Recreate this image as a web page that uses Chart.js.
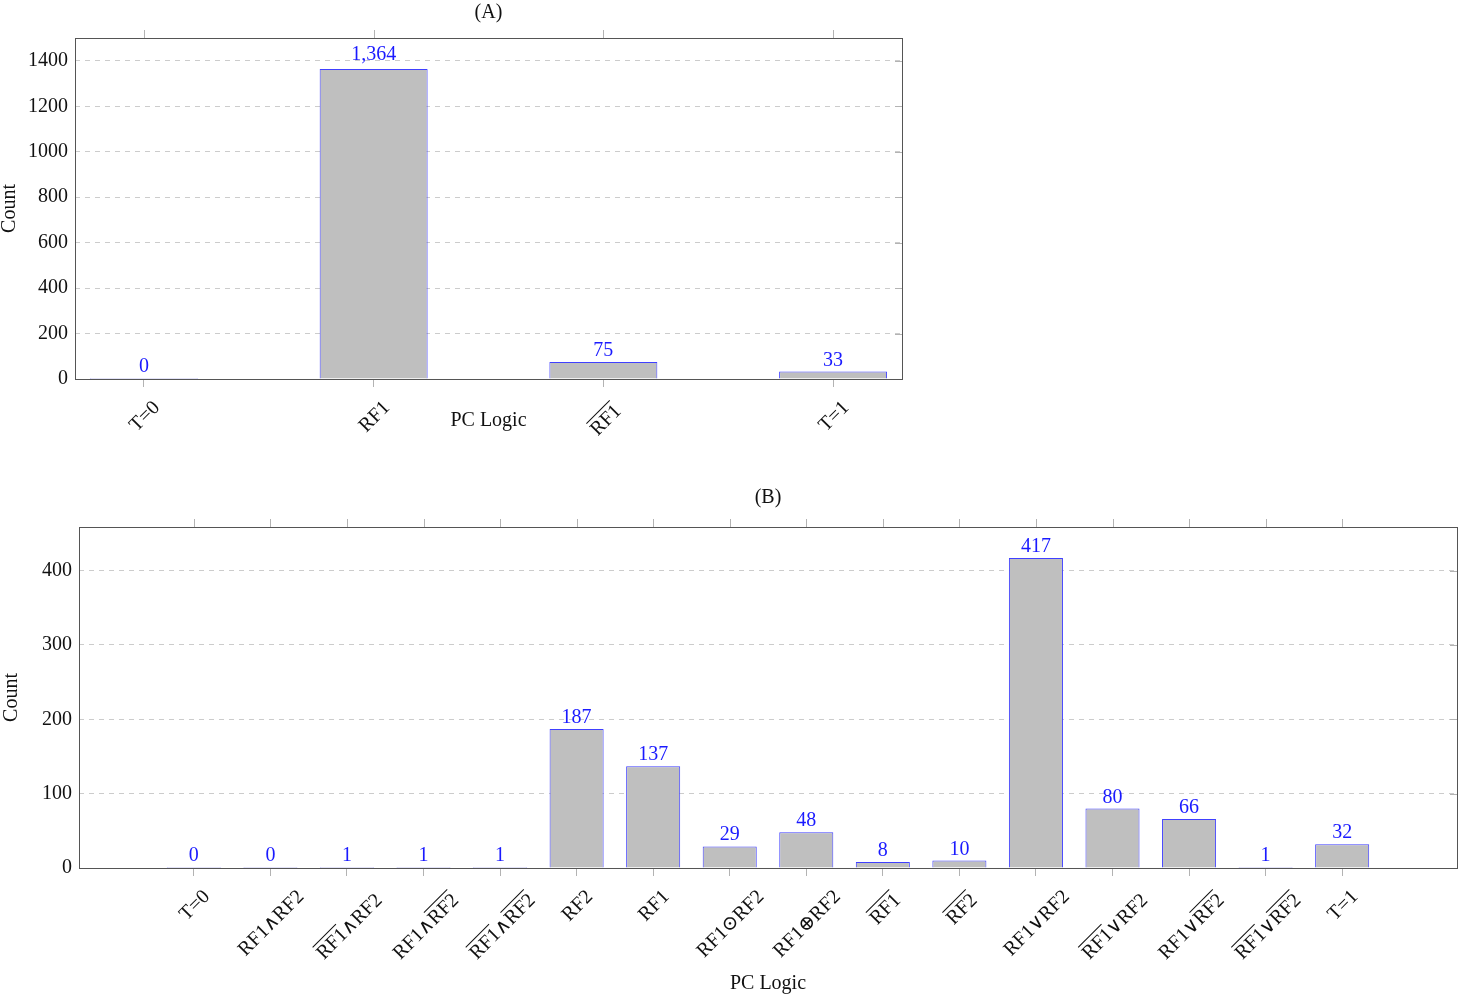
<!DOCTYPE html>
<html lang="en">
<head>
<meta charset="utf-8" />
<title>PC Logic counts</title>
<script src="https://cdn.jsdelivr.net/npm/chart.js@4.4.1/dist/chart.umd.min.js"></script>
<style>
    body { margin: 0; background: #fff; }
    .panel { position: absolute; left: 0; }
    #panelA { top: 0; }
    #panelB { top: 480px; }
</style>
</head>
<body>
<div class="panel" id="panelA"><canvas id="chartA" width="910" height="445"></canvas></div>
<div class="panel" id="panelB"><canvas id="chartB" width="1459" height="516"></canvas></div>
<script>
    // [..] marks the overlined (negated) part of a label
    const categoriesA = ['T=0', 'RF1', '[RF1]', 'T=1'];
    const countsA = [0, 1364, 75, 33];
    const yTicksA = [0, 200, 400, 600, 800, 1000, 1200, 1400];

    const categoriesB = [
        'T=0', 'RF1\u2227RF2', '[RF1]\u2227RF2', 'RF1\u2227[RF2]', '[RF1]\u2227[RF2]',
        'RF2', 'RF1', 'RF1\u2299RF2', 'RF1\u2295RF2', '[RF1]', '[RF2]',
        'RF1\u2228RF2', '[RF1]\u2228RF2', 'RF1\u2228[RF2]', '[RF1]\u2228[RF2]', 'T=1'
    ];
    const countsB = [0, 0, 1, 1, 1, 187, 137, 29, 48, 8, 10, 417, 80, 66, 1, 32];
    const yTicksB = [0, 100, 200, 300, 400];

    const FAMILY = "'Liberation Serif', 'DejaVu Serif', serif";
    const FONT = '20px ' + FAMILY;
    const TEXT = '#111';

    function parseLabel(str) {
        const parts = [];
        const re = /\[([^\]]*)\]|([^\[]+)/g;
        let m;
        while ((m = re.exec(str))) {
            if (m[1] !== undefined) parts.push({ text: m[1], over: true });
            else parts.push({ text: m[2], over: false });
        }
        return parts;
    }

    // rotated 45deg tick label, centred on the tick, top of its box at topY
    function drawTickLabel(ctx, label, x, topY) {
        ctx.font = FONT;
        const parts = parseLabel(label);
        const widths = parts.map(p => ctx.measureText(p.text).width);
        const w = widths.reduce((a, b) => a + b, 0);
        const cap = 13.5;
        const hasOver = parts.some(p => p.over);
        const h = cap + (hasOver ? 5 : 0);
        const cy = topY + (w + h) * Math.SQRT1_2 / 2;
        ctx.save();
        ctx.translate(x, cy);
        ctx.rotate(-Math.PI / 4);
        ctx.fillStyle = TEXT;
        ctx.strokeStyle = TEXT;
        ctx.lineWidth = 1;
        ctx.textAlign = 'left';
        ctx.textBaseline = 'alphabetic';
        const base = cap / 2 + (hasOver ? 2.5 : 0);
        let px = -w / 2;
        parts.forEach((p, i) => {
            ctx.fillText(p.text, px, base);
            if (p.over) {
                const oy = base - cap - 3.5;
                ctx.beginPath();
                ctx.moveTo(px + 1, oy);
                ctx.lineTo(px + widths[i] - 0.5, oy);
                ctx.stroke();
            }
            px += widths[i];
        });
        ctx.restore();
    }

    const decor = {
        id: 'decor',
        beforeDatasetsDraw(chart, args, opts) {
            const { ctx, chartArea: a } = chart;
            const xs = chart.scales.x;
            const ys = chart.scales.y;
            ctx.save();
            // top ticks, outside the frame
            ctx.strokeStyle = '#b3b3b3';
            ctx.lineWidth = 1;
            opts.categories.forEach((c, i) => {
                const px = Math.round(xs.getPixelForValue(i)) + 0.5;
                ctx.beginPath();
                ctx.moveTo(px, a.top - 8);
                ctx.lineTo(px, a.top);
                ctx.stroke();
            });
            // small inner ticks on the right side
            opts.yTicks.forEach(v => {
                const py = Math.round(ys.getPixelForValue(v)) + 0.5;
                ctx.beginPath();
                ctx.moveTo(a.right - 7, py);
                ctx.lineTo(a.right, py);
                ctx.stroke();
            });
            // frame
            ctx.strokeStyle = '#555';
            ctx.strokeRect(Math.round(a.left) + 0.5, Math.round(a.top) + 0.5,
                Math.round(a.right - a.left), Math.round(a.bottom - a.top));
            ctx.restore();
        },
        afterDatasetsDraw(chart, args, opts) {
            const { ctx, chartArea: a } = chart;
            const xs = chart.scales.x;
            ctx.save();
            // value labels
            ctx.font = FONT;
            ctx.fillStyle = '#1a1aff';
            ctx.textAlign = 'center';
            ctx.textBaseline = 'alphabetic';
            const meta = chart.getDatasetMeta(0);
            meta.data.forEach((bar, i) => {
                const v = opts.values[i];
                const txt = v.toLocaleString('en-US');
                const lift = txt.includes(',') ? 9 : 6;
                ctx.fillText(txt, bar.x, bar.y - lift);
            });
            // category labels
            opts.categories.forEach((c, i) => {
                drawTickLabel(ctx, c, xs.getPixelForValue(i), a.bottom + 20);
            });
            // titles
            ctx.fillStyle = TEXT;
            ctx.textAlign = 'center';
            ctx.textBaseline = 'middle';
            const cx = (a.left + a.right) / 2;
            ctx.fillText(opts.title, cx, a.top - opts.titleGap);
            ctx.fillText('PC Logic', cx, a.bottom + opts.xTitleGap);
            ctx.translate(opts.yTitleX, (a.top + a.bottom) / 2);
            ctx.rotate(-Math.PI / 2);
            ctx.fillText('Count', 0, 0);
            ctx.restore();
        }
    };

    function makeChart(id, cfg) {
        return new Chart(document.getElementById(id), {
            type: 'bar',
            data: {
                datasets: [{
                    data: cfg.values.map((v, i) => ({ x: i, y: v })),
                    backgroundColor: '#bfbfbf',
                    borderColor: '#4040ff',
                    borderWidth: 1,
                    borderSkipped: 'start',
                    minBarLength: 1,
                    barPercentage: cfg.barPct,
                    categoryPercentage: 1
                }]
            },
            options: {
                responsive: false,
                animation: false,
                layout: { padding: cfg.padding },
                plugins: {
                    legend: { display: false },
                    tooltip: { enabled: false },
                    decor: {
                        categories: cfg.categories,
                        values: cfg.values,
                        yTicks: cfg.yTicks,
                        title: cfg.title,
                        titleGap: cfg.titleGap,
                        xTitleGap: cfg.xTitleGap,
                        yTitleX: cfg.yTitleX
                    }
                },
                scales: {
                    x: {
                        type: 'linear',
                        offset: false,
                        min: cfg.xMin,
                        max: cfg.xMax,
                        afterBuildTicks: s => { s.ticks = cfg.categories.map((c, i) => ({ value: i })); },
                        afterFit: s => { s.height = cfg.xHeight; },
                        ticks: { display: false },
                        grid: { offset: false, drawOnChartArea: false, drawTicks: true, tickLength: 8, color: '#b3b3b3' },
                        border: { display: false }
                    },
                    y: {
                        min: 0,
                        max: cfg.yMax,
                        afterBuildTicks: s => { s.ticks = cfg.yTicks.map(v => ({ value: v })); },
                        afterFit: s => { s.width = cfg.yWidth; },
                        ticks: {
                            padding: 7,
                            color: TEXT,
                            font: { family: FAMILY, size: 20 },
                            callback: v => String(v)
                        },
                        grid: { drawTicks: false, color: '#cccccc', lineWidth: 1 },
                        border: { display: false, dash: [5, 5] }
                    }
                }
            },
            plugins: [decor]
        });
    }

    makeChart('chartA', {
        categories: categoriesA, values: countsA, yTicks: yTicksA,
        title: '(A)', xMin: -0.3, xMax: 3.3, yMax: 1500.4, barPct: 0.47,
        padding: { top: 38, right: 8, left: 0, bottom: 0 },
        yWidth: 75, xHeight: 66, titleGap: 25, xTitleGap: 42, yTitleX: 10
    });

    makeChart('chartB', {
        categories: categoriesB, values: countsB, yTicks: yTicksB,
        title: '(B)', xMin: -1.5, xMax: 16.5, yMax: 458.7, barPct: 0.706,
        padding: { top: 47, right: 2, left: 0, bottom: 0 },
        yWidth: 79, xHeight: 128, titleGap: 29, xTitleGap: 116, yTitleX: 12
    });
</script>
</body>
</html>
